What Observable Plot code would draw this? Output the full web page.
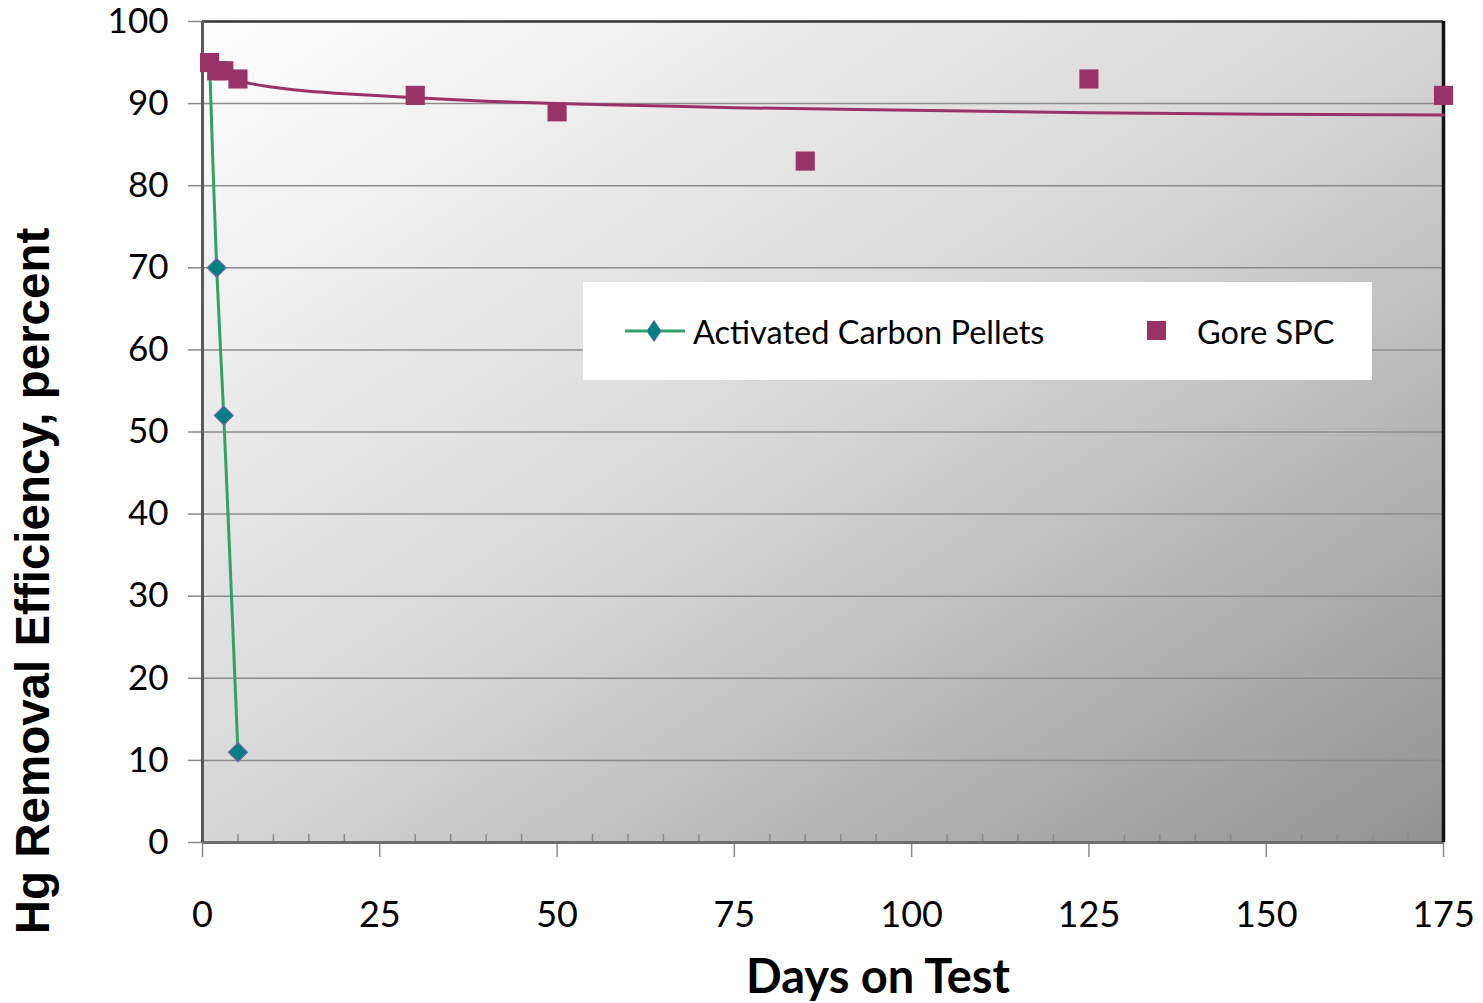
<!DOCTYPE html>
<html><head><meta charset="utf-8">
<script src="https://cdn.jsdelivr.net/npm/d3@7"></script>
<script src="https://cdn.jsdelivr.net/npm/@observablehq/plot@0.6"></script>
<style>
html,body{margin:0;padding:0;background:#fff;overflow:hidden;}
#wrap{position:relative;width:1483px;height:1003px;}
#wrap svg{color:#000;}
#wrap g[aria-label="y-axis tick"], #wrap g[aria-label="x-axis tick"]{stroke:#8a8a8a;stroke-width:1.5px;}
#legend{position:absolute;left:583px;top:282px;width:789px;height:98px;background:#fff;font-family:Lato, sans-serif;font-size:32.5px;color:#000;}
#legend .item{position:absolute;top:0;height:98px;display:flex;align-items:center;}
#legend svg{display:block;}
</style></head><body><div id="wrap"></div>
<script>
const seriesNames = ["Activated Carbon Pellets", "Gore SPC"];
const carbonDays = [1, 2, 3, 5];
const carbonEff = [95, 70, 52, 11];
const goreDays = [1, 2, 3, 5, 30, 50, 85, 125, 175];
const goreEff = [95, 94, 94, 93, 91, 89, 83, 93, 91];
const trendDays = [1, 2, 3, 5, 7, 10, 15, 20, 30, 40, 50, 60, 75, 100, 125, 150, 175];
const trendEff = [94.8, 93.9, 93.4, 92.8, 92.4, 92.0, 91.5, 91.2, 90.7, 90.3, 90.0, 89.8, 89.5, 89.2, 88.9, 88.7, 88.6];
const yTicks = [0, 10, 20, 30, 40, 50, 60, 70, 80, 90, 100];
const xTicks = [0, 25, 50, 75, 100, 125, 150, 175];
const xMinorTicks = [5, 10, 15, 20, 30, 35, 40, 45, 55, 60, 65, 70, 80, 85, 90, 95, 105, 110, 115, 120, 130, 135, 140, 145, 155, 160, 165, 170];
const xTitle = "Days on Test";
const yTitle = "Hg Removal Efficiency, percent";

const carbon = carbonDays.map((d, i) => ({day: d, eff: carbonEff[i]}));
const gore = goreDays.map((d, i) => ({day: d, eff: goreEff[i]}));
const trend = trendDays.map((d, i) => ({day: d, eff: trendEff[i]}));

const purple = "#993366";
const green = "#33a06a";

const chart = Plot.plot({
  width: 1483, height: 1003,
  marginLeft: 202, marginRight: 40, marginTop: 21, marginBottom: 161,
  x: {domain: [0, 175]},
  y: {domain: [0, 100]},
  style: {fontFamily: "Lato, sans-serif", background: "transparent", overflow: "visible"},
  marks: [
    Plot.frame({fill: "url(#bgGrad)", stroke: null}),
    Plot.ruleY(yTicks.filter(v => v > 0 && v < 100), {stroke: "#8c8c8c", strokeWidth: 1.5}),
    Plot.axisY(yTicks, {tickSize: 14, tickPadding: 20, fontSize: 35, label: null}),
    Plot.axisX(xTicks, {tickSize: 15, tickPadding: 44, fontSize: 36, label: null}),
    Plot.axisX(xMinorTicks, {tickSize: -8, tickFormat: () => "", label: null}),
    Plot.ruleY([0], {stroke: "#6e6e6e", strokeWidth: 3}),
    Plot.ruleY([100], {stroke: "#333", strokeWidth: 2.5}),
    Plot.ruleX([0], {stroke: "#5a5a5a", strokeWidth: 3}),
    Plot.ruleX([175], {stroke: "#111", strokeWidth: 3.5}),
    Plot.line(trend, {x: "day", y: "eff", stroke: purple, strokeWidth: 3, curve: "monotone-x"}),
    Plot.line(carbon, {x: "day", y: "eff", stroke: green, strokeWidth: 3, curve: "catmull-rom"}),
    Plot.dot(carbon.slice(1), {x: "day", y: "eff", symbol: "diamond2", r: 8.5, fill: "#008080", stroke: "#6a6aa8", strokeWidth: 1.2}),
    Plot.dot(gore, {x: "day", y: "eff", symbol: "square", r: 10.8, fill: purple, stroke: null}),
    Plot.text([xTitle], {frameAnchor: "bottom", dx: 55, dy: 150, fontSize: 47, fontWeight: "bold", fontFamily: "Lato, sans-serif", fill: "#000"}),
    Plot.text([yTitle], {frameAnchor: "left", textAnchor: "middle", dx: -169, dy: 149, rotate: -90, fontSize: 47.5, fontWeight: "bold", fontFamily: "Liberation Sans, Arial, sans-serif", fill: "#000"})
  ]
});

const defs = d3.select(chart).insert("defs", ":first-child");
const grad = defs.append("linearGradient").attr("id", "bgGrad")
  .attr("x1", 0).attr("y1", 0).attr("x2", 1).attr("y2", 1);
grad.append("stop").attr("offset", "0%").attr("stop-color", "#fefefe");
grad.append("stop").attr("offset", "50%").attr("stop-color", "#d6d6d6");
grad.append("stop").attr("offset", "100%").attr("stop-color", "#929292");

const wrap = document.getElementById("wrap");
wrap.appendChild(chart);

const legend = document.createElement("div");
legend.id = "legend";
legend.innerHTML = `
  <div class="item" style="left:42px;">
    <svg width="60" height="24" viewBox="0 0 60 24"><line x1="0" y1="12" x2="60" y2="12" stroke="${green}" stroke-width="3"/><path d="M29,1.5 L36,12 L29,22.5 L22,12 Z" fill="#008080" stroke="#6a6aa8" stroke-width="1"/></svg>
    <span style="margin-left:8px;">${seriesNames[0]}</span>
  </div>
  <div class="item" style="left:564px;">
    <svg width="20" height="20" viewBox="0 0 20 20"><rect x="0" y="0" width="19" height="19" fill="${purple}"/></svg>
    <span style="margin-left:30px;">${seriesNames[1]}</span>
  </div>`;
wrap.appendChild(legend);
</script>
</body></html>
